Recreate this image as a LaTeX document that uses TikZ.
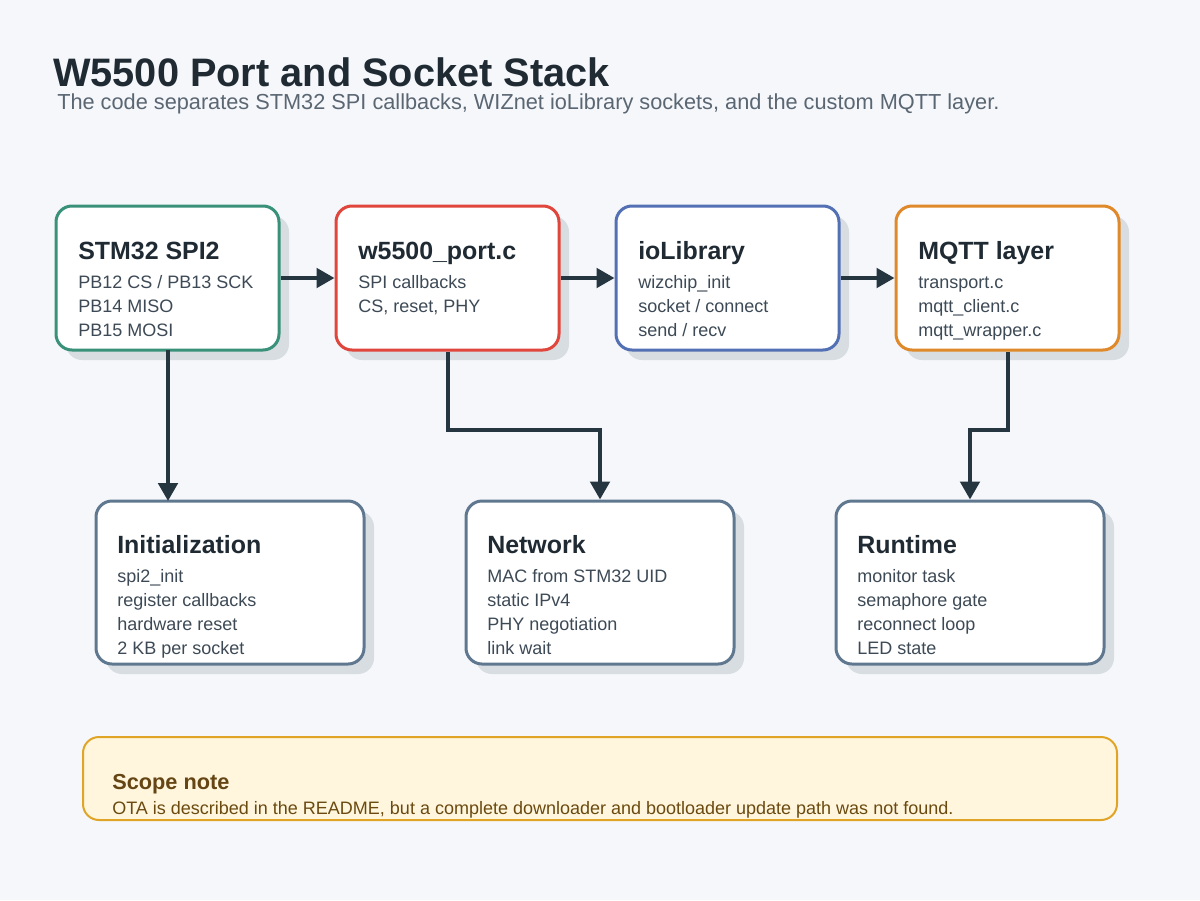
\documentclass[tikz,border=0pt]{standalone}
\usepackage{fontspec}
\setmainfont{Liberation Sans}
\usetikzlibrary{arrows.meta,shadows}
\definecolor{bgc}{HTML}{F5F7FB}
\definecolor{cgreen}{HTML}{3A9179}
\definecolor{cred}{HTML}{E0463C}
\definecolor{cblue}{HTML}{5470B4}
\definecolor{corange}{HTML}{E0892A}
\definecolor{cslate}{HTML}{5F7890}
\definecolor{cgold}{HTML}{E0A526}
\definecolor{notefill}{HTML}{FFF6DD}
\definecolor{shadowc}{HTML}{D8DDE1}
\definecolor{arrowc}{HTML}{263640}
\definecolor{headc}{HTML}{1F2A33}
\definecolor{bodyc}{HTML}{3D4A56}
\definecolor{subc}{HTML}{5A6672}
\definecolor{notehead}{HTML}{654513}
\definecolor{notetext}{HTML}{6B4A10}
\tikzset{
  card/.style={draw, fill=white, line width=2.25pt, rounded corners=12pt,
    drop shadow={shadow xshift=7.5pt, shadow yshift=-7.5pt, fill=shadowc, opacity=1}},
  topcard/.style={card, minimum width=167.25pt, minimum height=108pt},
  botcard/.style={card, draw=cslate, minimum width=201pt, minimum height=122.25pt},
  headtxt/.style={anchor=base west, inner sep=0pt, font=\fontsize{18.7pt}{22pt}\selectfont\bfseries, text=headc},
  bodytxt/.style={anchor=base west, inner sep=0pt, font=\fontsize{13.5pt}{18pt}\selectfont, text=bodyc, align=left},
  conn/.style={draw=arrowc, line width=3pt, -{Triangle[length=13.5pt,width=14.5pt]}}
}
\begin{document}
\begin{tikzpicture}[x=0.75pt,y=-0.75pt]
\fill[bgc] (0,0) rectangle (1200,900);
\useasboundingbox (0,0) rectangle (1200,900);
% title
\node[anchor=base west, inner sep=0pt, font=\fontsize{29.8pt}{34pt}\selectfont\bfseries, text=headc] (title) at (53,86) {W5500 Port and Socket Stack};
\node[anchor=base west, inner sep=0pt, font=\fontsize{16.3pt}{19pt}\selectfont, text=subc] (sub) at (57,109) {The code separates STM32 SPI callbacks, WIZnet ioLibrary sockets, and the custom MQTT layer.};
% top cards
\node[topcard, draw=cgreen] (b1) at (167.5,278) {};
\node[topcard, draw=cred] (b2) at (447.5,278) {};
\node[topcard, draw=cblue] (b3) at (727.5,278) {};
\node[topcard, draw=corange] (b4) at (1007.5,278) {};
% bottom cards
\node[botcard] (b5) at (230,582.5) {};
\node[botcard] (b6) at (600,582.5) {};
\node[botcard] (b7) at (970,582.5) {};
% top texts
\node[headtxt] (h1) at (78,259) {STM32 SPI2};
\node[bodytxt] (t1a) at (78,288) {PB12 CS / PB13 SCK};
\node[bodytxt] (t1b) at (78,312) {PB14 MISO};
\node[bodytxt] (t1c) at (78,336) {PB15 MOSI};
\node[headtxt] (h2) at (358,259) {w5500\_port.c};
\node[bodytxt] (t2a) at (358,288) {SPI callbacks};
\node[bodytxt] (t2b) at (358,312) {CS, reset, PHY};
\node[headtxt] (h3) at (638,259) {ioLibrary};
\node[bodytxt] (t3a) at (638,288) {wizchip\_init};
\node[bodytxt] (t3b) at (638,312) {socket / connect};
\node[bodytxt] (t3c) at (638,336) {send / recv};
\node[headtxt] (h4) at (918,259) {MQTT layer};
\node[bodytxt] (t4a) at (918,288) {transport.c};
\node[bodytxt] (t4b) at (918,312) {mqtt\_client.c};
\node[bodytxt] (t4c) at (918,336) {mqtt\_wrapper.c};
% bottom texts
\node[headtxt] (h5) at (117,553) {Initialization};
\node[bodytxt] (t5a) at (117,582) {spi2\_init};
\node[bodytxt] (t5b) at (117,606) {register callbacks};
\node[bodytxt] (t5c) at (117,630) {hardware reset};
\node[bodytxt] (t5d) at (117,654) {2 KB per socket};
\node[headtxt] (h6) at (487,553) {Network};
\node[bodytxt] (t6a) at (487,582) {MAC from STM32 UID};
\node[bodytxt] (t6b) at (487,606) {static IPv4};
\node[bodytxt] (t6c) at (487,630) {PHY negotiation};
\node[bodytxt] (t6d) at (487,654) {link wait};
\node[headtxt] (h7) at (857,553) {Runtime};
\node[bodytxt] (t7a) at (857,582) {monitor task};
\node[bodytxt] (t7b) at (857,606) {semaphore gate};
\node[bodytxt] (t7c) at (857,630) {reconnect loop};
\node[bodytxt] (t7d) at (857,654) {LED state};
% connectors
\draw[conn] (b1.east) -- (b2.west);
\draw[conn] (b2.east) -- (b3.west);
\draw[conn] (b3.east) -- (b4.west);
\coordinate (s1) at (168,350);
\coordinate (e1) at (168,501);
\draw[conn] (s1) -- (e1);
\coordinate (j2) at (447.5,430);
\draw[conn] (b2.south) -- (j2) -| (b6.north);
\coordinate (j4) at (1007.5,430);
\draw[conn] (b4.south) -- (j4) -| (b7.north);
% note
\node[draw=cgold, fill=notefill, line width=1.5pt, rounded corners=12pt, minimum width=775.5pt, minimum height=62.25pt] (note) at (600,778.5) {};
\node[anchor=base west, inner sep=0pt, font=\fontsize{16.3pt}{19pt}\selectfont\bfseries, text=notehead] (nh) at (112,789) {Scope note};
\node[anchor=base west, inner sep=0pt, font=\fontsize{13.5pt}{16pt}\selectfont, text=notetext] (nt) at (112,814) {OTA is described in the README, but a complete downloader and bootloader update path was not found.};
\end{tikzpicture}
\end{document}
